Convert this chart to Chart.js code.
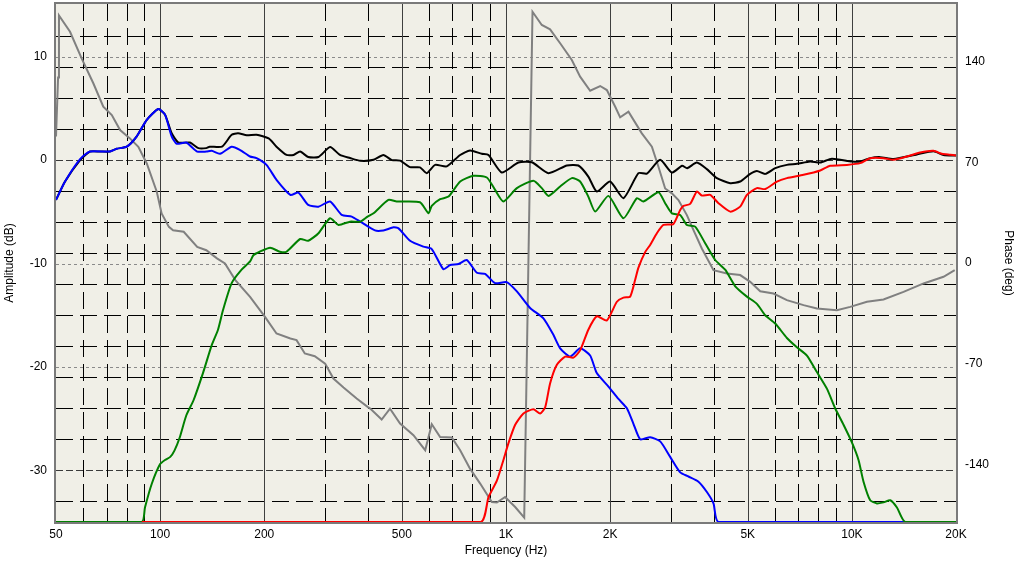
<!DOCTYPE html>
<html>
<head>
<meta charset="utf-8">
<title>Respuesta en frecuencia</title>
<script src="https://cdn.jsdelivr.net/npm/chart.js@4.4.1/dist/chart.umd.min.js"></script>
<style>
  html, body { margin: 0; padding: 0; background: #fff; }
  #contenedor { width: 1018px; height: 561px; position: relative; }
</style>
</head>
<body>
<div id="contenedor"><canvas id="grafica"></canvas></div>
<script>
// Ticks de los ejes
const ticksFrecuencia = [50, 100, 200, 500, 1000, 2000, 5000, 10000, 20000];
const ticksAmplitud = [-30, -20, -10, 0, 10];
const ticksFase = [-140, -70, 0, 70, 140];

// Lineas de la rejilla (Hz y dB)
const lineasSolidas = [100, 200, 500, 1000, 2000, 5000, 10000];
const lineasPunteadas = [60, 70, 80, 90, 300, 400, 600, 700, 800, 900, 3000, 4000, 6000, 7000, 8000, 9000];
const lineasDb3 = [12, 9, 6, 3, -3, -6, -9, -12, -15, -18, -21, -24, -27, -33];
const lineasDb10 = [10, -10, -20];
const lineasDbCero = [0, -30];

// Suma (negro)
const freqSuma = [50, 53.1, 58.7, 62.7, 67, 71.6, 74.9, 80.1, 85.6, 91.5, 98.8, 103.3, 108, 113, 122, 129, 136, 139, 151, 161, 168, 178, 190, 206, 217, 232, 243, 254, 268, 287, 310, 331, 354, 379, 414, 442, 468, 494, 528, 564, 590, 624, 674, 737, 787, 851, 890, 972, 1086, 1188, 1327, 1500, 1619, 1730, 1830, 2000, 2186, 2415, 2554, 2791, 3017, 3230, 3340, 3563, 3809, 4071, 4449, 4754, 5082, 5313, 5616, 6004, 6488, 6935, 7578, 8100, 8753, 10000, 10568, 11297, 12076, 13197, 15417, 17222, 18405, 20000];
const dbSuma = [-3.85, -2.07, 0.0, 0.83, 0.83, 0.83, 1.1, 1.3, 2.3, 3.9, 4.94, 4.4, 2.6, 1.7, 1.7, 1.16, 1.16, 1.3, 1.3, 2.45, 2.6, 2.4, 2.45, 2.1, 1.3, 0.5, 0.5, 0.83, 0.3, 0.3, 1.26, 0.5, 0.2, -0.07, 0.03, 0.5, 0.0, -0.05, -0.68, -0.7, -1.26, -0.46, -0.6, 0.5, 0.93, 0.61, 0.5, -1.2, -0.23, -0.2, -1.26, -0.52, -0.52, -1.59, -3.04, -2.07, -3.68, -1.26, -1.3, 0.03, -1.2, -0.55, -0.78, -0.23, -0.87, -1.74, -2.23, -2.07, -1.33, -1.04, -1.33, -0.78, -0.46, -0.36, -0.13, -0.23, 0.13, -0.13, -0.13, 0.19, 0.29, 0.1, 0.55, 0.85, 0.5, 0.45];

// Woofer (azul)
const freqWoofer = [50, 53.1, 58.7, 62.7, 71.6, 74.9, 80.1, 85.6, 91.5, 98.8, 103.3, 108, 111.7, 119, 128, 136, 141, 149, 161, 170, 182, 190, 203, 217, 238, 251, 268, 287, 310, 335, 358, 379, 418, 442, 473, 489, 528, 577, 610, 659, 689, 729, 770, 824, 870, 930, 1005, 1075, 1174, 1283, 1371, 1434, 1533, 1638, 1751, 1830, 1978, 2114, 2236, 2336, 2443, 2611, 2791, 2983, 3189, 3370, 3601, 3809, 3980, 4115, 14263];
const dbWoofer = [-3.85, -2.07, 0.1, 0.83, 0.83, 1.1, 1.3, 2.3, 3.9, 4.94, 4.4, 2.3, 1.58, 1.7, 0.83, 0.83, 0.9, 0.61, 1.3, 1.0, 0.35, 0.19, -0.46, -1.9, -3.36, -3.14, -4.33, -4.5, -4.0, -5.3, -5.46, -5.95, -6.8, -6.8, -6.5, -6.6, -7.8, -8.37, -8.6, -10.55, -10.15, -10.05, -9.66, -10.9, -11.0, -11.9, -11.8, -12.7, -14.3, -15.3, -16.9, -18.2, -19.0, -18.2, -18.9, -20.6, -21.9, -23.1, -24.0, -25.5, -27.0, -26.8, -27.2, -28.7, -30.2, -30.6, -31.1, -32.1, -33.2, -35, -35];

// Medio (verde)
const freqMedio = [50, 88.5, 90.4, 94.6, 100, 103.3, 107, 110, 114, 119, 125, 133, 141, 147, 152, 161, 172, 182, 186, 194, 208, 222, 232, 254, 268, 287, 310, 328, 354, 379, 398, 414, 457, 483, 564, 597, 610, 645, 682, 737, 805, 880, 930, 983, 1075, 1200, 1269, 1327, 1434, 1550, 1638, 1730, 1811, 1978, 2186, 2389, 2497, 2759, 2885, 3017, 3189, 3334, 3523, 3766, 4025, 4303, 4600, 4972, 5313, 5616, 6004, 6488, 6935, 7414, 7923, 8468, 8946, 9459, 10000, 10452, 10806, 11297, 11813, 12343, 12909, 13497, 14263, 20000];
const dbMedio = [-35, -35, -33.6, -31.3, -29.4, -29.0, -28.7, -28.1, -26.8, -24.7, -23.2, -20.6, -17.9, -16.4, -14.5, -11.9, -10.6, -9.8, -9.2, -8.86, -8.47, -8.86, -8.86, -7.63, -7.8, -7.07, -5.62, -6.27, -5.95, -5.95, -5.46, -5.14, -3.85, -4.0, -4.07, -5.14, -4.43, -3.78, -3.53, -2.07, -1.52, -1.68, -2.88, -4.0, -2.71, -2.0, -2.71, -3.46, -2.55, -1.74, -2.07, -3.53, -4.98, -3.46, -5.62, -3.68, -4.0, -3.1, -4.17, -5.15, -5.3, -6.27, -6.43, -8.04, -9.66, -10.6, -12.2, -13.2, -13.9, -15.0, -15.8, -17.2, -18.1, -18.9, -20.5, -22.1, -24.0, -25.6, -27.3, -29.0, -31.1, -32.9, -33.2, -33.1, -32.9, -33.6, -35, -35];

// Tweeter (rojo)
const freqTweeter = [88.5, 845, 890, 941, 983, 1016, 1063, 1123, 1200, 1255, 1298, 1341, 1403, 1483, 1567, 1638, 1730, 1830, 1957, 2092, 2186, 2285, 2362, 2415, 2525, 2611, 2730, 2852, 3048, 3189, 3259, 3408, 3563, 3683, 3894, 4115, 4449, 4754, 4972, 5313, 5616, 6071, 6488, 7249, 8100, 8656, 9675, 10568, 11297, 12343, 13197, 14424, 15759, 17222, 18210, 19245, 20000];
const dbTweeter = [-35, -35, -32.6, -31.0, -29.0, -27.4, -25.6, -24.5, -24.1, -24.5, -23.9, -21.6, -19.8, -19.0, -19.1, -18.4, -16.4, -15.1, -15.5, -13.7, -13.3, -13.2, -11.6, -10.4, -8.9, -8.2, -7.07, -6.27, -6.17, -4.82, -4.43, -4.23, -3.04, -3.43, -3.36, -4.17, -4.98, -4.5, -3.36, -2.71, -2.8, -2.07, -1.74, -1.42, -1.0, -0.55, -0.46, -0.29, 0.19, 0.19, 0.03, 0.35, 0.74, 0.9, 0.61, 0.52, 0.45];

// Fase de la suma (gris, eje derecho)
const freqFase = [50, 50.7, 51.0, 54.9, 59.3, 64.1, 68.5, 72.5, 76.6, 81.8, 86.5, 91.5, 97.8, 101, 106, 109, 117, 128, 136, 146, 154, 165, 182, 201, 217, 238, 248, 262, 280, 300, 317, 339, 370, 398, 405, 437, 462, 494, 540, 584, 610, 645, 697, 737, 787, 842, 910, 941, 994, 1063, 1129, 1193, 1269, 1341, 1434, 1550, 1638, 1751, 1872, 1957, 2069, 2138, 2260, 2470, 2641, 2759, 2885, 3017, 3152, 3334, 3484, 3683, 3980, 4352, 4754, 5082, 5432, 5935, 6488, 7249, 7923, 9052, 9890, 11054, 12343, 14103, 16117, 18405, 19830];
const gradosFase = [88, 129, 172, 160.7, 142.2, 124.9, 108.6, 102.8, 92.4, 86.6, 80.8, 69.2, 49.5, 34.5, 25.1, 22.8, 21.7, 11.2, 8.9, 3.2, -0.3, -11.9, -23.5, -37.4, -49.0, -52.5, -53.6, -62.9, -64.8, -69.9, -80.3, -86.5, -94.2, -100, -101.2, -108.8, -101.2, -111.6, -119.7, -130.1, -112.1, -120.9, -121.3, -130.1, -142.9, -153.3, -166.1, -166.5, -162.6, -169.6, -176.9, 174.6, 165.4, 162.4, 152.7, 141.1, 129.5, 119.7, 123, 120.2, 108.6, 101.2, 105.1, 90.1, 80.8, 66.9, 51.8, 48.4, 43.7, 33.3, 22.8, 10.1, -5.0, -7.3, -8.4, -13.1, -19.6, -21.2, -25.8, -29.3, -31.6, -32.8, -30.5, -27.0, -25.4, -20.1, -14.2, -9.6, -5.0];

function puntos(freqs, valores) {
    return freqs.map((f, i) => ({ x: f, y: valores[i] }));
}

// Fondo, rejilla y marco del area de trazado
const rejilla = {
    id: 'rejilla',
    beforeDatasetsDraw(chart) {
        const { ctx, chartArea: a, scales } = chart;
        const ex = scales.x, ey = scales.y;
        ctx.save();
        ctx.fillStyle = '#f0efe7';
        ctx.fillRect(a.left, a.top, a.right - a.left, a.bottom - a.top);

        function horizontal(v, color, dash) {
            const py = Math.round(ey.getPixelForValue(v)) + 0.5;
            ctx.strokeStyle = color;
            ctx.setLineDash(dash);
            ctx.beginPath();
            ctx.moveTo(a.left, py);
            ctx.lineTo(a.right, py);
            ctx.stroke();
        }
        function vertical(f, color, dash) {
            const px = Math.round(ex.getPixelForValue(f)) + 0.5;
            ctx.strokeStyle = color;
            ctx.setLineDash(dash);
            ctx.beginPath();
            ctx.moveTo(px, a.top);
            ctx.lineTo(px, a.bottom);
            ctx.stroke();
        }

        ctx.lineWidth = 1;
        lineasDb10.forEach(v => horizontal(v, '#8a8a8a', [3, 3]));
        lineasDb3.forEach(v => horizontal(v, '#000000', [17, 7]));
        lineasDbCero.forEach(v => horizontal(v, '#3a3a3a', [7, 3]));
        lineasPunteadas.forEach(f => vertical(f, '#000000', [17, 7]));
        lineasSolidas.forEach(f => vertical(f, '#3f3f3f', []));
        ctx.restore();
    },
    afterDatasetsDraw(chart) {
        const { ctx, chartArea: a } = chart;
        ctx.save();
        ctx.strokeStyle = '#7a7a7a';
        ctx.lineWidth = 2;
        ctx.strokeRect(a.left - 1, a.top - 1, a.right - a.left + 2, a.bottom - a.top + 2);
        ctx.restore();
    }
};

Chart.defaults.font.family = "'Liberation Sans', Arial, sans-serif";
Chart.defaults.font.size = 12;
Chart.defaults.color = '#000';

const linea = (datos, color, eje, orden, tension) => ({
    data: datos,
    borderColor: color,
    borderWidth: 2,
    pointRadius: 0,
    fill: false,
    tension: tension,
    yAxisID: eje,
    order: orden
});

// Quitar el relleno que Chart.js reserva para las etiquetas de los extremos
function sinRelleno(s) {
    s.paddingTop = 0;
    s.paddingBottom = 0;
    s.paddingLeft = 0;
    s.paddingRight = 0;
}

new Chart(document.getElementById('grafica').getContext('2d'), {
    type: 'line',
    data: {
        datasets: [
            linea(puntos(freqTweeter, dbTweeter), '#ff0000', 'y', 1, 0.2),
            linea(puntos(freqMedio, dbMedio), '#008000', 'y', 2, 0.2),
            linea(puntos(freqWoofer, dbWoofer), '#0000ff', 'y', 3, 0.2),
            linea(puntos(freqSuma, dbSuma), '#000000', 'y', 4, 0.2),
            linea(puntos(freqFase, gradosFase), '#808080', 'y2', 5, 0)
        ]
    },
    options: {
        responsive: true,
        maintainAspectRatio: false,
        animation: false,
        layout: { padding: { top: 4, left: 0, right: 0, bottom: 0 } },
        plugins: {
            legend: { display: false },
            tooltip: { enabled: false }
        },
        scales: {
            x: {
                type: 'logarithmic',
                min: 50,
                max: 20000,
                grid: { display: false, drawTicks: false },
                border: { display: false },
                afterBuildTicks: s => { s.ticks = ticksFrecuencia.map(v => ({ value: v })); },
                afterFit: s => { s.height = 39; sinRelleno(s); },
                ticks: {
                    autoSkip: false,
                    maxRotation: 0,
                    padding: 5,
                    callback: v => v >= 1000 ? (v / 1000) + 'K' : String(v)
                },
                title: { display: true, text: 'Frequency (Hz)', padding: { top: 0, bottom: 3 } }
            },
            y: {
                position: 'left',
                min: -35,
                max: 15.1,
                grid: { display: false, drawTicks: false },
                border: { display: false },
                afterBuildTicks: s => { s.ticks = ticksAmplitud.map(v => ({ value: v })); },
                afterFit: s => { s.width = 56; sinRelleno(s); },
                ticks: { padding: 9 },
                title: { display: true, text: 'Amplitude (dB)', padding: { top: 2, bottom: 0 } }
            },
            y2: {
                position: 'right',
                min: -180,
                max: 180,
                grid: { display: false, drawTicks: false },
                border: { display: false },
                afterBuildTicks: s => { s.ticks = ticksFase.map(v => ({ value: v })); },
                afterFit: s => { s.width = 62; sinRelleno(s); },
                ticks: { padding: 9 },
                title: { display: true, text: 'Phase (deg)', padding: { top: 2, bottom: 0 } }
            }
        }
    },
    plugins: [rejilla]
});
</script>
</body>
</html>
